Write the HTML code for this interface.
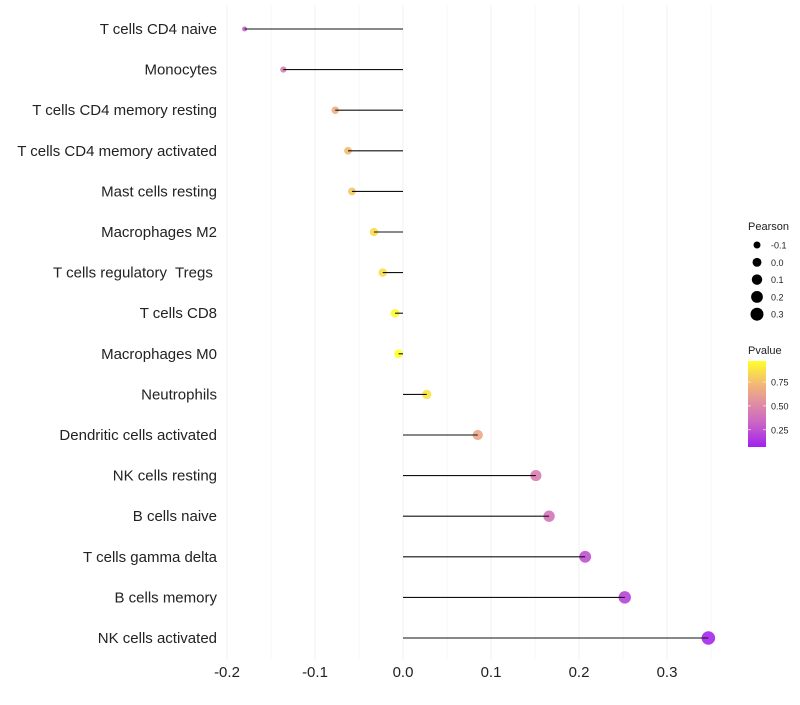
<!DOCTYPE html>
<html><head><meta charset="utf-8"><style>
body{margin:0;background:#fff;font-family:"Liberation Sans",sans-serif}
text{white-space:pre}
</style></head><body>
<svg id="c" width="800" height="700" xmlns="http://www.w3.org/2000/svg"></svg>
<script>
const categories=["T cells CD4 naive","Monocytes","T cells CD4 memory resting","T cells CD4 memory activated","Mast cells resting","Macrophages M2","T cells regulatory  Tregs ","T cells CD8","Macrophages M0","Neutrophils","Dendritic cells activated","NK cells resting","B cells naive","T cells gamma delta","B cells memory","NK cells activated"];
const pearson=[-0.180,-0.136,-0.077,-0.0625,-0.058,-0.033,-0.023,-0.009,-0.005,0.027,0.085,0.151,0.166,0.207,0.252,0.347];
const pvalues=[0.30,0.45,0.68,0.74,0.78,0.85,0.86,0.95,0.97,0.88,0.65,0.45,0.40,0.25,0.20,0.10];
const xTicks=[-0.2,-0.1,0.0,0.1,0.2,0.3];
const xTickLabels=["-0.2","-0.1","0.0","0.1","0.2","0.3"];
const sizeLegend=[-0.1,0.0,0.1,0.2,0.3];
const colorLegend=[0.25,0.50,0.75];
const NS="http://www.w3.org/2000/svg";
const svg=document.getElementById('c');
const X=v=>403+v*880;
const Y=i=>29+i*40.6;
const R=v=>Math.sqrt(Math.max(1,19.75+75*v));
const stops=[[0.07,[160,32,240]],[0.3,[200,96,200]],[0.5,[221,136,168]],[0.72,[242,181,120]],[0.97,[255,255,40]]];
function col(p){p=Math.max(0.07,Math.min(0.97,p));for(let k=0;k<stops.length-1;k++){const a=stops[k],b=stops[k+1];if(p<=b[0]){const t=(p-a[0])/(b[0]-a[0]);const c=a[1].map((x,j)=>Math.round(x+(b[1][j]-x)*t));return`rgb(${c})`}}return'rgb(255,255,40)'}
function el(t,a,txt){const e=document.createElementNS(NS,t);for(const k in a)e.setAttribute(k,a[k]);if(txt!==undefined)e.textContent=txt;svg.appendChild(e);return e}
for(let v=-0.2;v<=0.351;v+=0.05){const g=el('line',{x1:X(v),x2:X(v),y1:5,y2:660,stroke:'#f0f0f0','stroke-width':Math.abs(Math.round(v*100)%10)<1?1:0.5});

}
xTicks.forEach((v,i)=>{const t=el('text',{x:X(v),y:677,'text-anchor':'middle','font-size':15,fill:'#222'},xTickLabels[i]);

});
categories.forEach((c,i)=>{
const l=el('text',{x:217,y:Y(i)+5,'text-anchor':'end','font-size':15,fill:'#222'},c);


const d=el('circle',{cx:X(pearson[i]),cy:Y(i),r:R(pearson[i]),fill:col(pvalues[i]),'fill-opacity':0.9});


const s=el('line',{x1:X(0),x2:X(pearson[i]),y1:Y(i),y2:Y(i),stroke:'#111','stroke-width':1.1});


});
const st=el('text',{x:748,y:230,'font-size':11,fill:'#222'},'Pearson');


sizeLegend.forEach((v,i)=>{const y=245+i*17.3;
const c=el('circle',{cx:757,cy:y,r:R(v),fill:'#000'});


const t=el('text',{x:771,y:y+3.5,'font-size':9,fill:'#222'},v.toFixed(1));

});
const ct=el('text',{x:748,y:354,'font-size':11,fill:'#222'},'Pvalue');


const defs=el('defs',{});
const lg=document.createElementNS(NS,'linearGradient');lg.setAttribute('id','g');lg.setAttribute('x1','0');lg.setAttribute('x2','0');lg.setAttribute('y1','1');lg.setAttribute('y2','0');defs.appendChild(lg);
for(let k=0;k<=10;k++){const s=document.createElementNS(NS,'stop');s.setAttribute('offset',k/10);s.setAttribute('stop-color',col(0.07+0.9*k/10));lg.appendChild(s);}
const bar=el('rect',{x:748,y:361,width:18,height:86,fill:'url(#g)'});


colorLegend.forEach(p=>{const y=361+(0.97-p)/0.9*86;
el('line',{x1:748,x2:751,y1:y,y2:y,stroke:'#fff','stroke-width':0.6});el('line',{x1:763,x2:766,y1:y,y2:y,stroke:'#fff','stroke-width':0.6});
const t=el('text',{x:771,y:y+3.5,'font-size':9,fill:'#222'},p.toFixed(2));

});
</script>
</body></html>
